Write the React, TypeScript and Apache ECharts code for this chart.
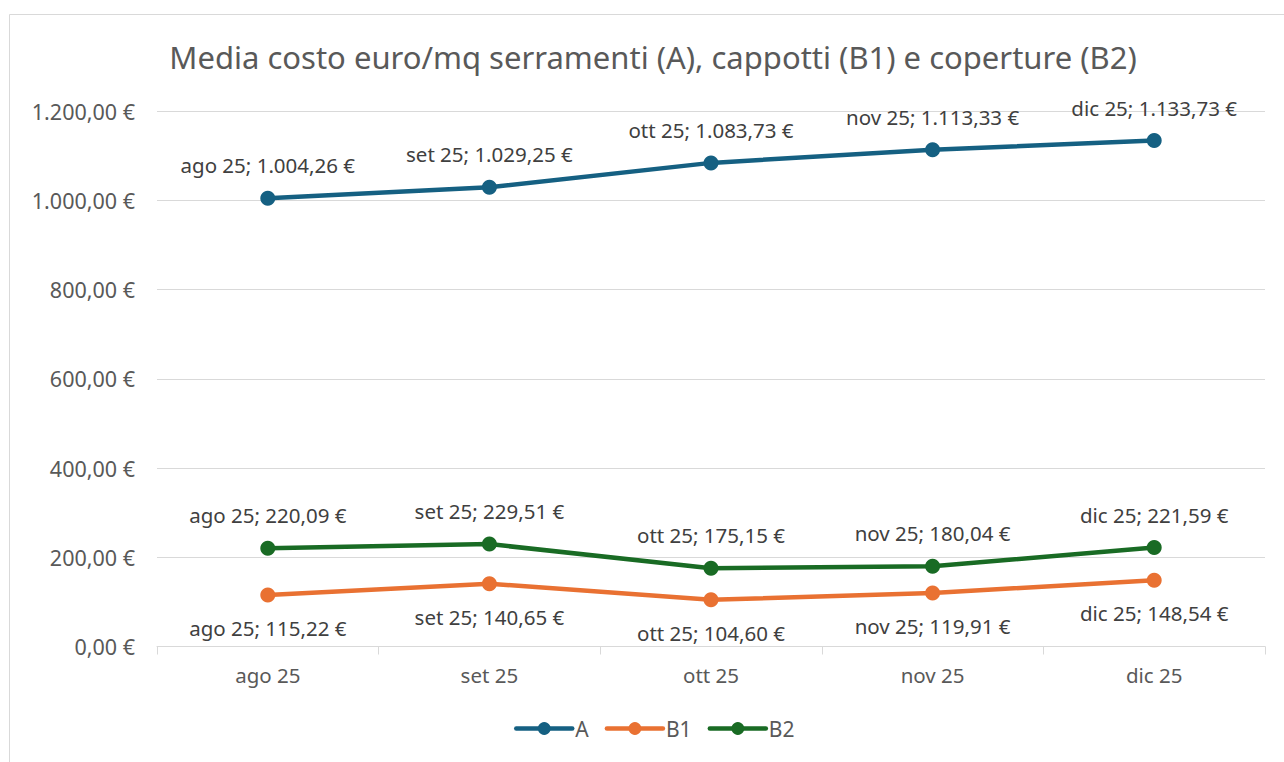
import React, { useEffect, useRef } from "react";
import * as echarts from "echarts";

const categories = ["ago 25", "set 25", "ott 25", "nov 25", "dic 25"];
const seriesA = [1004.26, 1029.25, 1083.73, 1113.33, 1133.73];
const seriesB1 = [115.22, 140.65, 104.6, 119.91, 148.54];
const seriesB2 = [220.09, 229.51, 175.15, 180.04, 221.59];
const yTicks = { min: 0, max: 1200, interval: 200 };
const titleText = "Media costo euro/mq serramenti (A), cappotti (B1) e coperture (B2)";

const FONT = "'Noto Sans', sans-serif";

function fmt(v: number): string {
  const [intPart, dec] = v.toFixed(2).split(".");
  const withSep = intPart.replace(/\B(?=(\d{3})+(?!\d))/g, ".");
  return `${withSep},${dec} €`;
}

export default function App() {
  const ref = useRef<HTMLDivElement>(null);
  useEffect(() => {
    document.body.style.margin = "0";
    document.body.style.overflow = "hidden";
    const chart = echarts.init(ref.current!, null, { renderer: "svg" });
    const label = (pos: "top" | "bottom") => ({
      show: true,
      position: pos,
      distance: 15,
      fontFamily: FONT,
      fontSize: 20.5,
      color: "#404040",
      formatter: (p: any) => `${p.name}; ${fmt(p.value)}`,
    });
    const mk = (name: string, data: number[], color: string, pos: "top" | "bottom") => ({
      name,
      type: "line",
      data,
      symbol: "circle",
      symbolSize: 15,
      lineStyle: { width: 4.5, color, cap: "round" },
      itemStyle: { color },
      label: label(pos),
    });
    chart.setOption({
      animation: false,
      backgroundColor: "#ffffff",
      title: {
        text: titleText,
        left: 648,
        textAlign: "center",
        top: 36,
        textStyle: { fontFamily: FONT, fontSize: 31, fontWeight: "normal", color: "#595959" },
      },
      grid: { left: 157, right: 19, top: 111, bottom: 115.5, containLabel: false },
      xAxis: {
        type: "category",
        data: categories,
        boundaryGap: true,
        axisLine: { lineStyle: { color: "#d9d9d9", width: 1 } },
        axisTick: { show: true, length: 8, lineStyle: { color: "#d9d9d9" } },
        axisLabel: { fontFamily: FONT, fontSize: 20.5, color: "#595959", margin: 18 },
      },
      yAxis: {
        type: "value",
        min: yTicks.min,
        max: yTicks.max,
        interval: yTicks.interval,
        axisLine: { show: false },
        axisTick: { show: false },
        splitLine: { lineStyle: { color: "#d9d9d9", width: 1 } },
        axisLabel: {
          fontFamily: FONT,
          fontSize: 21.5,
          color: "#595959",
          margin: 22,
          formatter: (v: number) => fmt(v),
        },
      },
      legend: {
        bottom: 18,
        left: 509,
        itemWidth: 56,
        itemHeight: 16,
        itemGap: 16,
        lineStyle: { width: 4.5, cap: "round" },
        textStyle: { fontFamily: FONT, fontSize: 21, color: "#595959", padding: [0, 0, 0, -2] },
        data: ["A", "B1", "B2"],
      },
      graphic: [
        {
          type: "rect",
          shape: { x: 9.5, y: 14.5, width: 1400, height: 900 },
          style: { fill: "none", stroke: "#d9d9d9", lineWidth: 1 },
          silent: true,
          z: -1,
        },
      ],
      series: [
        mk("A", seriesA, "#156082", "top"),
        mk("B1", seriesB1, "#E97132", "bottom"),
        mk("B2", seriesB2, "#196B24", "top"),
      ],
    });
    return () => chart.dispose();
  }, []);
  return <div ref={ref} style={{ position: "fixed", left: 0, top: 0, width: 1284, height: 762 }} />;
}
